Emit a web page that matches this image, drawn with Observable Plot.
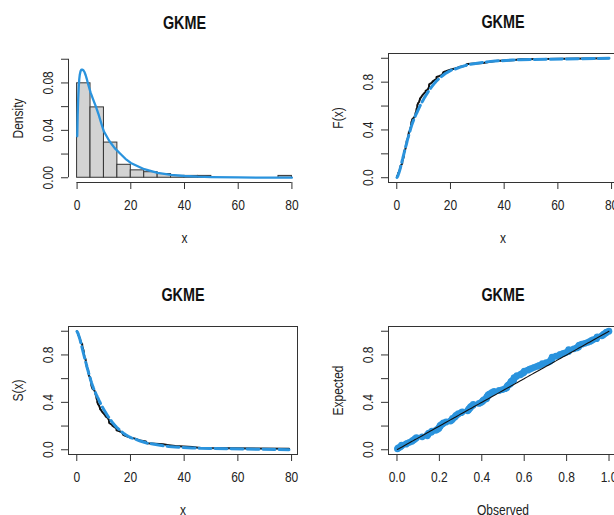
<!DOCTYPE html>
<html>
<head>
<meta charset="utf-8">
<script src="https://cdn.jsdelivr.net/npm/d3@7"></script>
<script src="https://cdn.jsdelivr.net/npm/@observablehq/plot@0.6"></script>
<style>
  html, body { margin: 0; padding: 0; background: #fff; }
  #fig { position: relative; width: 614px; height: 515px; overflow: hidden; background: #fff; }
  #fig > div { position: absolute; }
  #fig svg { max-width: none !important; }
</style>
</head>
<body>
<div id="fig"></div>
<script>
// Remission times (months) of 128 bladder cancer patients, sorted
const remission = [
  0.08, 0.20, 0.40, 0.50, 0.51, 0.81, 0.90, 1.05, 1.19, 1.26, 1.35, 1.40, 1.46, 1.76, 2.02, 2.02,
  2.07, 2.09, 2.23, 2.26, 2.46, 2.54, 2.62, 2.64, 2.69, 2.69, 2.75, 2.83, 2.87, 3.02, 3.25, 3.31,
  3.36, 3.36, 3.48, 3.52, 3.57, 3.64, 3.70, 3.82, 3.88, 4.18, 4.23, 4.26, 4.33, 4.34, 4.40, 4.50,
  4.51, 4.87, 4.98, 5.06, 5.09, 5.17, 5.32, 5.32, 5.34, 5.41, 5.41, 5.49, 5.62, 5.71, 5.85, 6.25,
  6.54, 6.76, 6.93, 6.94, 6.97, 7.09, 7.26, 7.28, 7.32, 7.39, 7.59, 7.62, 7.63, 7.66, 7.87, 7.93,
  8.26, 8.37, 8.53, 8.65, 8.66, 9.02, 9.22, 9.47, 9.74, 10.06, 10.34, 10.66, 10.75, 11.25, 11.64, 11.79,
  11.98, 12.02, 12.03, 12.07, 12.63, 13.11, 13.29, 13.80, 14.24, 14.76, 14.77, 14.83, 15.96, 16.62, 17.12, 17.14,
  17.36, 18.10, 19.13, 20.28, 21.73, 22.69, 23.63, 25.74, 25.82, 26.31, 32.15, 34.26, 36.66, 43.01, 46.12, 79.05
];

// Fitted GKME cdf at each remission time (same order)
const fittedCdf = [
  0.002, 0.006, 0.015, 0.021, 0.022, 0.042, 0.048, 0.059, 0.069, 0.075, 0.082, 0.086, 0.092, 0.119, 0.143, 0.143,
  0.148, 0.150, 0.162, 0.165, 0.183, 0.190, 0.197, 0.199, 0.203, 0.203, 0.209, 0.216, 0.219, 0.232, 0.252, 0.257,
  0.262, 0.262, 0.272, 0.275, 0.279, 0.285, 0.290, 0.303, 0.308, 0.333, 0.337, 0.339, 0.345, 0.346, 0.351, 0.359,
  0.360, 0.387, 0.396, 0.403, 0.405, 0.411, 0.422, 0.422, 0.424, 0.429, 0.429, 0.435, 0.443, 0.449, 0.458, 0.482,
  0.498, 0.510, 0.518, 0.519, 0.521, 0.526, 0.534, 0.535, 0.537, 0.540, 0.549, 0.551, 0.551, 0.553, 0.563, 0.566,
  0.582, 0.587, 0.595, 0.600, 0.601, 0.617, 0.626, 0.636, 0.647, 0.660, 0.671, 0.683, 0.686, 0.704, 0.718, 0.723,
  0.729, 0.730, 0.731, 0.732, 0.750, 0.765, 0.770, 0.784, 0.796, 0.809, 0.809, 0.810, 0.834, 0.847, 0.856, 0.856,
  0.860, 0.872, 0.886, 0.900, 0.910, 0.918, 0.926, 0.941, 0.942, 0.945, 0.966, 0.972, 0.977, 0.985, 0.988, 0.9995
];

// Fitted GKME density curve
const densityX = [0.05, 0.2, 0.4, 0.6, 0.8, 1.0, 1.3, 1.6, 2.0, 2.4, 2.8, 3.2, 3.6, 4.0, 5, 6, 7, 8, 9, 10,
  12, 14, 16, 18, 20, 25, 30, 35, 40, 45, 50, 60, 70, 80];
const densityY = [0.035, 0.052, 0.066, 0.076, 0.083, 0.087, 0.090, 0.0912, 0.0912, 0.0905, 0.089, 0.0865, 0.0835, 0.080,
  0.072, 0.066, 0.060, 0.0535, 0.046, 0.039, 0.031, 0.025, 0.0205, 0.016, 0.0125, 0.0072, 0.0042, 0.0025, 0.0015,
  0.0009, 0.0006, 0.0003, 0.0001, 0.00005];

const histBreaks = [0, 5, 10, 15, 20, 25, 30, 35, 40, 45, 50, 55, 60, 65, 70, 75, 80];
const timeTicks = [0, 20, 40, 60, 80];
const densityTicks = [0, 0.02, 0.04, 0.06, 0.08, 0.10];
const densityLabelTicks = [0, 0.04, 0.08];
const probTicks = [0, 0.2, 0.4, 0.6, 0.8, 1.0];
const probLabelTicks = [0, 0.4, 0.8];
const panelTitle = "GKME";

const BLUE = "#2a93dd";
const INK = "#222";
const AXIS = "#333";
const FONT = "'Liberation Sans', Arial, sans-serif";

const n = remission.length;
const rows = remission.map((x, i) => ({
  x,
  ecdf: (i + 1) / n,
  surv: 1 - i / n,
  fit: fittedCdf[i],
  fitSurv: 1 - fittedCdf[i]
}));
const density = densityX.map((x, i) => ({x, y: densityY[i]}));
const bins = d3.bin().domain([histBreaks[0], histBreaks[histBreaks.length - 1]]).thresholds(histBreaks)(remission)
  .map(b => ({x0: b.x0, x1: b.x1, dens: b.length / (n * (b.x1 - b.x0))}));

const fmt2 = d3.format(".2f");
const fmt1 = d3.format(".1f");
const fmt0 = d3.format("d");

// Shared text/axis helpers in an R base-graphics style
function decorations({title, xLabel, yLabel, xTicks, xFmt, yTicks, yLabelTicks, yFmt}) {
  const common = {fill: INK, fontSize: 15, lineAnchor: "middle", textAnchor: "middle"};
  return [
    Plot.axisX({ticks: xTicks, tickSize: 7, tickFormat: () => "", label: null, stroke: AXIS}),
    Plot.axisY({ticks: yTicks, tickSize: 7, tickFormat: () => "", label: null, stroke: AXIS}),
    Plot.text(xTicks, {x: d => d, text: xFmt, frameAnchor: "bottom", dy: 23, ...common}),
    Plot.text(yLabelTicks, {y: d => d, text: yFmt, frameAnchor: "left", dx: -20, rotate: -90, ...common}),
    Plot.text([title], {text: d => d, frameAnchor: "top", dy: -31, ...common, fontWeight: "bold", fontSize: 18, fill: "#111"}),
    Plot.text([xLabel], {text: d => d, frameAnchor: "bottom", dy: 56, ...common}),
    Plot.text([yLabel], {text: d => d, frameAnchor: "left", dx: -50, rotate: -90, ...common})
  ];
}

function place(chart, left, top, width) {
  const wrap = document.createElement("div");
  wrap.style.left = left + "px";
  wrap.style.top = top + "px";
  wrap.style.width = width + "px";
  wrap.appendChild(chart);
  document.getElementById("fig").appendChild(wrap);
}

const baseStyle = {fontFamily: FONT, fontSize: "15px", color: INK, background: "transparent", overflow: "visible", maxWidth: "none"};

// Histogram with fitted density
const histX = [-3.2, 83.2];
const histY = [-0.004, 0.104];
place(Plot.plot({
  width: 307, height: 257,
  marginLeft: 68, marginRight: 7, marginTop: 54, marginBottom: 75,
  x: {domain: histX}, y: {domain: histY},
  style: baseStyle,
  marks: [
    Plot.rectY(bins, {x1: "x0", x2: "x1", y: "dens", fill: "#d3d3d3", stroke: AXIS, strokeWidth: 1}),
    Plot.line(density, {x: "x", y: "y", stroke: BLUE, strokeWidth: 2.3}),
    Plot.ruleY([histY[0]], {x1: timeTicks[0], x2: timeTicks[timeTicks.length - 1], stroke: AXIS}),
    Plot.ruleX([histX[0]], {y1: densityTicks[0], y2: densityTicks[densityTicks.length - 1], stroke: AXIS}),
    ...decorations({title: panelTitle, xLabel: "x", yLabel: "Density", xTicks: timeTicks, xFmt: fmt0,
      yTicks: densityTicks, yLabelTicks: densityLabelTicks, yFmt: fmt2})
  ]
}), 0, 0, 307);

// Empirical vs fitted cdf
const timeDomain = [-3.08, 82.21];
const probDomain = [-0.04, 1.04];
place(Plot.plot({
  width: 320, height: 257,
  marginLeft: 81, marginRight: 10, marginTop: 53, marginBottom: 75,
  x: {domain: timeDomain}, y: {domain: probDomain},
  style: baseStyle,
  marks: [
    Plot.line(rows, {x: "x", y: "ecdf", stroke: "#111", strokeWidth: 2}),
    Plot.line(rows, {x: "x", y: "fit", stroke: BLUE, strokeWidth: 3, strokeDasharray: "12,4"}),
    Plot.frame({stroke: AXIS}),
    ...decorations({title: panelTitle, xLabel: "x", yLabel: "F(x)", xTicks: timeTicks, xFmt: fmt0,
      yTicks: probTicks, yLabelTicks: probLabelTicks, yFmt: fmt1})
  ]
}), 307, 0, 320);

// Empirical vs fitted survival
place(Plot.plot({
  width: 307, height: 258,
  marginLeft: 68, marginRight: 10, marginTop: 69, marginBottom: 61,
  x: {domain: timeDomain}, y: {domain: probDomain},
  style: baseStyle,
  marks: [
    Plot.line(rows, {x: "x", y: "surv", stroke: "#111", strokeWidth: 2}),
    Plot.line(rows, {x: "x", y: "fitSurv", stroke: BLUE, strokeWidth: 3, strokeDasharray: "12,4"}),
    Plot.frame({stroke: AXIS}),
    ...decorations({title: panelTitle, xLabel: "x", yLabel: "S(x)", xTicks: timeTicks, xFmt: fmt0,
      yTicks: probTicks, yLabelTicks: probLabelTicks, yFmt: fmt1})
  ]
}), 0, 257, 307);

// P-P plot
place(Plot.plot({
  width: 320, height: 258,
  marginLeft: 81, marginRight: 10, marginTop: 69, marginBottom: 61,
  x: {domain: probDomain}, y: {domain: probDomain},
  style: baseStyle,
  marks: [
    Plot.dot(rows, {x: "fit", y: "ecdf", r: 3.4, fill: BLUE, stroke: null}),
    Plot.line(rows, {x: "fit", y: "fit", stroke: "#111", strokeWidth: 1.1}),
    Plot.frame({stroke: AXIS}),
    ...decorations({title: panelTitle, xLabel: "Observed", yLabel: "Expected", xTicks: probTicks, xFmt: fmt1,
      yTicks: probTicks, yLabelTicks: probLabelTicks, yFmt: fmt1})
  ]
}), 307, 257, 320);

// Narrow the lettering along its baseline, as in the condensed device font
document.querySelectorAll("#fig svg text").forEach(t => {
  const len = t.getComputedTextLength();
  if (len > 0) {
    t.setAttribute("textLength", (len * 0.8).toFixed(2));
    t.setAttribute("lengthAdjust", "spacingAndGlyphs");
  }
});
</script>
</body>
</html>
